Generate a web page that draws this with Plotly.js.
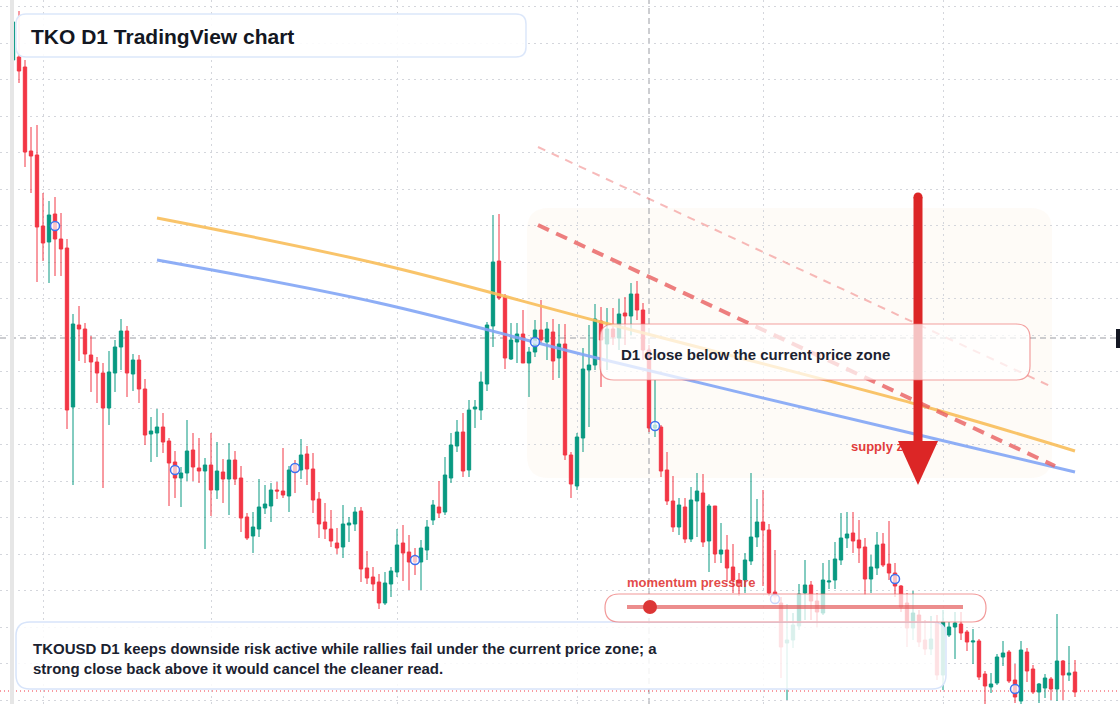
<!DOCTYPE html>
<html>
<head>
<meta charset="utf-8">
<script src="https://cdn.plot.ly/plotly-3.0.1.min.js"></script>
<style>
html,body{margin:0;padding:0;background:#fff;}
#chart{width:1120px;height:704px;}
</style>
</head>
<body>
<div id="chart"></div>
<script>
// ---- data (prices in thousandths of USD) ----
const firstDay = '2023-01-27';
const openK = [740,743,733,649,645,574,558,586,561,552,393,475,471,445,438,427,392,427,453,469,426,440,411,366,367,373,359,338,322,327,350,332,329,335,310,328,321,340,322,283,264,271,292,294,310,309,304,335,330,346,331,301,278,271,257,253,275,276,289,232,223,218,197,216,228,257,248,244,238,250,280,293,288,322,354,368,330,391,390,416,474,539,503,441,458,466,437,448,470,458,468,442,456,345,314,362,430,435,479,456,471,462,487,484,506,490,450,372,373,330,299,273,293,261,299,307,259,294,246,250,233,220,220,239,263,278,270,208,197,157,160,174,207,215,199,187,218,220,240,262,267,260,253,221,232,256,236,227,214,197,172,185,160,151,177,125,165,173,176,168,158,159,126,113,117,143,148,120,99,148,131,108,112,121,111,139,125,128];
const highK = [788,789,740,673,675,607,599,603,587,561,486,494,477,464,443,437,449,460,481,474,446,445,421,383,391,387,362,349,333,380,367,362,342,367,358,341,357,349,334,287,288,321,315,317,318,352,334,340,361,354,347,308,297,290,272,295,283,293,293,249,233,226,228,233,271,275,265,252,260,280,300,319,343,367,380,387,400,400,428,478,585,586,506,477,477,490,453,480,500,478,481,476,476,348,367,452,475,496,493,492,492,501,503,517,519,497,455,420,375,348,324,302,302,313,327,326,296,294,277,265,256,227,247,327,301,310,276,250,203,196,187,216,240,219,207,237,240,258,287,288,288,280,262,245,268,267,279,237,215,207,209,190,180,184,185,190,178,188,188,170,171,161,129,127,146,159,150,136,159,152,135,117,126,123,186,140,154,140];
const lowK = [738,717,633,607,518,539,517,524,524,371,315,439,437,408,397,312,375,408,430,403,409,397,355,338,343,347,294,302,293,319,319,317,251,284,301,297,285,315,268,260,247,263,286,278,301,302,288,307,321,315,287,262,261,253,246,242,258,269,218,216,209,191,195,203,223,219,210,225,210,240,275,282,285,317,348,323,323,372,380,409,453,500,431,440,437,437,403,443,457,440,420,422,340,302,310,348,373,430,413,430,455,450,455,465,480,440,368,363,323,295,268,265,257,258,263,253,228,237,237,218,207,204,207,235,253,214,204,196,122,100,152,170,180,180,173,185,211,211,235,252,247,237,205,207,225,233,220,203,188,153,160,153,145,145,120,110,163,141,160,149,136,120,96,107,115,134,117,97,96,118,106,97,102,100,99,100,119,103];
const closeK = [778,729,648,644,573,557,585,561,551,390,476,471,446,438,427,392,428,453,469,427,440,411,365,369,373,358,337,322,327,349,333,329,335,310,329,321,340,321,282,262,273,293,296,310,309,305,330,328,345,331,300,276,271,259,252,276,277,288,231,222,216,197,217,229,255,247,238,238,252,273,295,287,325,355,368,329,390,393,418,475,538,502,442,460,466,437,448,470,460,471,439,456,345,316,363,431,435,481,460,471,463,486,484,506,490,450,372,375,329,299,273,295,261,300,309,258,294,246,250,232,220,217,240,263,278,270,207,203,153,160,175,206,215,199,188,220,219,241,262,266,259,252,221,233,255,235,227,214,193,172,187,158,151,161,125,178,173,177,167,158,159,123,114,116,143,147,119,103,150,129,108,116,122,111,139,125,127,108];

// averages drawn on the chart (anchor readings)
const avgDates = ['2023-02-20','2023-03-29','2023-05-05','2023-06-27','2023-07-23'];
const orangeAvgK = [582,536,478,395,349];
const blueAvgK = [540,497,441,365,328];

// drawn trend lines
const trendDates = ['2023-04-24 12:00','2023-07-18 20:00'];
const trendUpperK = [653,414];
const trendDates2 = ['2023-04-24 12:00','2023-07-19 16:00'];
const trendLowerK = [575,334];

// circle marks
const markDates = ['2023-02-03','2023-02-23','2023-03-15','2023-04-04','2023-04-24','2023-05-14','2023-06-03','2023-06-23','2023-07-13'];
const markK = [574,330,332,240,458,374,201,221,111];

const currentPriceK = 462;
const lastLineK = 109;
const crossDate = '2023-05-13';
const supplyLabel = {date:'2023-06-15 16:00', k:352, text:'supply zone'};

const titleText = 'TKO D1 TradingView chart';
const boxText = 'D1 close below the current price zone';
const momentumText = 'momentum pressure';
const noteText = 'TKOUSD D1 keeps downside risk active while rallies fail under the current price zone; a<br>strong close back above it would cancel the cleaner read.';

// ---- helpers ----
const toP = a => a.map(v => v / 1000);
const DAY = 86400000;
const dates = openK.map((_, k) => new Date(Date.parse(firstDay) + k * DAY).toISOString().slice(0, 10));
const W = 1120, H = 704;
const fx = x => x / W, fy = y => 1 - y / H;
function rr(x0, y0, x1, y1, r) {
  const X = v => fx(v).toFixed(5), Y = v => fy(v).toFixed(5);
  return `M ${X(x0+r)},${Y(y0)} L ${X(x1-r)},${Y(y0)} Q ${X(x1)},${Y(y0)} ${X(x1)},${Y(y0+r)} L ${X(x1)},${Y(y1-r)} Q ${X(x1)},${Y(y1)} ${X(x1-r)},${Y(y1)} L ${X(x0+r)},${Y(y1)} Q ${X(x0)},${Y(y1)} ${X(x0)},${Y(y1-r)} L ${X(x0)},${Y(y0+r)} Q ${X(x0)},${Y(y0)} ${X(x0+r)},${Y(y0)} Z`;
}
function poly(pts) {
  return 'M ' + pts.map(p => fx(p[0]).toFixed(5) + ',' + fy(p[1]).toFixed(5)).join(' L ') + ' Z';
}

const GREEN = '#089981', RED = '#f23645';
const font = '"Liberation Sans", Arial, sans-serif';

const traces = [
  {
    type: 'candlestick', x: dates,
    open: toP(openK), high: toP(highK), low: toP(lowK), close: toP(closeK),
    increasing: {line: {color: GREEN, width: 1}, fillcolor: GREEN},
    decreasing: {line: {color: RED, width: 1}, fillcolor: RED},
    whiskerwidth: 0, hoverinfo: 'skip', showlegend: false
  },
  {type: 'scatter', mode: 'lines', x: avgDates, y: toP(orangeAvgK),
   line: {color: 'rgba(248,190,90,0.9)', width: 3, shape: 'spline', smoothing: 1}, hoverinfo: 'skip', showlegend: false},
  {type: 'scatter', mode: 'lines', x: avgDates, y: toP(blueAvgK),
   line: {color: 'rgba(130,165,245,0.9)', width: 3, shape: 'spline', smoothing: 1}, hoverinfo: 'skip', showlegend: false},
  {type: 'scatter', mode: 'lines', x: trendDates, y: toP(trendUpperK),
   line: {color: 'rgba(240,130,130,0.55)', width: 2, dash: '8px,7px'}, hoverinfo: 'skip', showlegend: false},
  {type: 'scatter', mode: 'lines', x: trendDates2, y: toP(trendLowerK),
   line: {color: 'rgba(232,95,95,0.8)', width: 4, dash: '12px,8px'}, hoverinfo: 'skip', showlegend: false},
  {type: 'scatter', mode: 'markers', x: markDates, y: toP(markK),
   marker: {symbol: 'circle', size: 9, color: 'rgba(255,255,255,0.7)', line: {color: '#3f72f0', width: 1.5}},
   hoverinfo: 'skip', showlegend: false},
  {type: 'scatter', mode: 'text', x: [supplyLabel.date], y: [supplyLabel.k / 1000], text: [supplyLabel.text],
   textposition: 'middle right', textfont: {family: font, size: 13, color: '#e23b3b', weight: 'bold'},
   hoverinfo: 'skip', showlegend: false}
];

const x0ms = Date.parse('2023-02-01') - 43 / 6 * DAY;
const x1ms = x0ms + W / 6 * DAY;
const iso = ms => new Date(ms).toISOString().replace('T', ' ').slice(0, 19);

const shapes = [
  // supply zone background
  {type: 'path', xref: 'paper', yref: 'paper', path: rr(527, 208, 1052, 478, 22), fillcolor: 'rgba(250,215,185,0.11)', line: {width: 0}, layer: 'between'},
  // crosshair lines
  {type: 'line', xref: 'paper', yref: 'y', x0: 0, x1: 1, y0: currentPriceK / 1000, y1: currentPriceK / 1000, line: {color: '#9a9ca3', width: 1, dash: '6px,4px'}, layer: 'between'},
  {type: 'line', xref: 'x', yref: 'paper', x0: crossDate, x1: crossDate, y0: 0, y1: 1, line: {color: '#9a9ca3', width: 1, dash: '6px,4px'}, layer: 'between'},
  {type: 'line', xref: 'paper', yref: 'y', x0: 0, x1: 1, y0: lastLineK / 1000, y1: lastLineK / 1000, line: {color: '#f23645', width: 1, dash: '1px,3px'}, layer: 'between'},
  // arrow
  {type: 'line', xref: 'paper', yref: 'paper', x0: fx(918), x1: fx(918), y0: fy(197), y1: fy(446), line: {color: '#dc2626', width: 9}, layer: 'above'},
  {type: 'circle', xref: 'paper', yref: 'paper', x0: fx(913.5), x1: fx(922.5), y0: fy(192.5), y1: fy(201.5), fillcolor: '#dc2626', line: {width: 0}, layer: 'above'},
  {type: 'path', xref: 'paper', yref: 'paper', path: poly([[898, 441], [938, 441], [918, 485]]), fillcolor: '#dc2626', line: {width: 0}, layer: 'above'},
  // title box
  {type: 'path', xref: 'paper', yref: 'paper', path: rr(16, 14, 526, 57, 10), fillcolor: 'rgba(255,255,255,0.9)', line: {color: '#dce7fa', width: 1.5}, layer: 'above'},
  // D1 box
  {type: 'path', xref: 'paper', yref: 'paper', path: rr(600, 324, 1030, 380, 14), fillcolor: 'rgba(255,255,255,0.72)', line: {color: 'rgba(236,110,110,0.65)', width: 1.2}, layer: 'above'},
  // bottom note box
  {type: 'path', xref: 'paper', yref: 'paper', path: rr(16, 622, 946, 689, 14), fillcolor: 'rgba(255,255,255,0.85)', line: {color: '#d7e4fa', width: 1.5}, layer: 'above'},
  // momentum pill
  {type: 'path', xref: 'paper', yref: 'paper', path: rr(605, 594, 986, 622, 14), fillcolor: 'rgba(255,255,255,0.72)', line: {color: 'rgba(236,110,110,0.7)', width: 1.2}, layer: 'above'},
  {type: 'line', xref: 'paper', yref: 'paper', x0: fx(627), x1: fx(963), y0: fy(607), y1: fy(607), line: {color: 'rgba(226,80,80,0.65)', width: 4}, layer: 'above'},
  {type: 'circle', xref: 'paper', yref: 'paper', x0: fx(643), x1: fx(657), y0: fy(600), y1: fy(614), fillcolor: '#dc3535', line: {width: 0}, layer: 'above'},
  // left strip & right label stub
  {type: 'rect', xref: 'paper', yref: 'paper', x0: fx(10), x1: fx(14), y0: 0, y1: 1, fillcolor: '#e6e6e6', line: {width: 0}, layer: 'above'},
  {type: 'rect', xref: 'paper', yref: 'paper', x0: fx(1116), x1: 1, y0: fy(348), y1: fy(329), fillcolor: '#131722', line: {width: 0}, layer: 'above'}
];

const annotations = [
  {xref: 'paper', yref: 'paper', x: fx(29), y: fy(36), xanchor: 'left', yanchor: 'middle', showarrow: false,
   text: titleText, font: {family: font, size: 21, color: '#131722', weight: 'bold'}},
  {xref: 'paper', yref: 'paper', x: fx(619), y: fy(354), xanchor: 'left', yanchor: 'middle', showarrow: false,
   text: boxText, font: {family: font, size: 15, color: '#1b2230', weight: 'bold'}},
  {xref: 'paper', yref: 'paper', x: fx(625), y: fy(582), xanchor: 'left', yanchor: 'middle', showarrow: false,
   text: momentumText, font: {family: font, size: 13, color: 'rgba(224,50,50,0.9)', weight: 'bold'}},
  {xref: 'paper', yref: 'paper', x: fx(31), y: fy(658), xanchor: 'left', yanchor: 'middle', align: 'left', showarrow: false,
   text: noteText, font: {family: font, size: 15, color: '#1b2230', weight: 'bold'}}
];

const layout = {
  width: W, height: H,
  margin: {l: 0, r: 0, t: 0, b: 0, pad: 0},
  paper_bgcolor: '#ffffff', plot_bgcolor: '#ffffff',
  showlegend: false,
  boxgap: 0.2,
  xaxis: {type: 'date', range: [iso(x0ms), iso(x1ms)], rangeslider: {visible: false},
          showticklabels: false, ticks: '', showgrid: true, gridcolor: '#d4d6dc', griddash: '2px,4px', gridwidth: 1,
          tick0: '2023-01-01', dtick: 'M1', zeroline: false, showline: false, fixedrange: true},
  yaxis: {range: [0.096, 0.800], showticklabels: false, ticks: '', showgrid: true, gridcolor: '#d4d6dc', griddash: '2px,4px', gridwidth: 1,
          tick0: 0.319, dtick: 0.0365, zeroline: false, showline: false, fixedrange: true},
  shapes: shapes, annotations: annotations,
  hovermode: false
};

Plotly.newPlot('chart', traces, layout, {displayModeBar: false, staticPlot: true});
</script>
</body>
</html>
